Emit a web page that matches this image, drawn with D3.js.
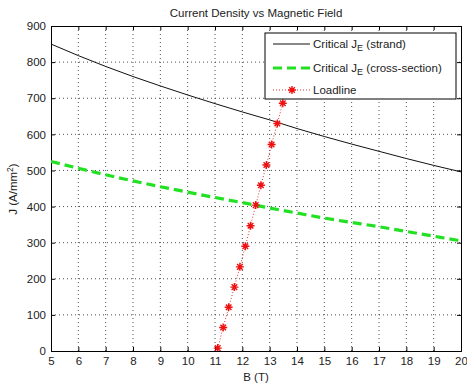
<!DOCTYPE html>
<html>
<head>
<meta charset="utf-8">
<script src="https://cdn.jsdelivr.net/npm/d3@7"></script>
<style>
body { margin: 0; background: #fff; }
text { font-family: "Liberation Sans", Arial, sans-serif; }
</style>
</head>
<body>
<svg width="467" height="385"></svg>
<script>
// B values for the critical curves
const bField = [5, 6, 7, 8, 9, 10, 11, 12, 13, 14, 15, 16, 17, 18, 19, 20]
const strandJ = [850, 818, 788, 760, 734, 709, 685, 662, 640, 616, 594, 573, 553, 533, 514, 496]
const crossJ = [525, 506, 488, 471, 455, 440, 425, 411, 396, 382, 368, 356, 344, 331, 318, 305]

// loadline points
const loadB = [11.1, 11.3, 11.5, 11.71, 11.91, 12.11, 12.3, 12.49, 12.68, 12.88, 13.07, 13.28, 13.48, 13.68, 13.88]
const loadJ = [8, 65, 121, 177, 233, 290, 347, 404, 459, 515, 572, 630, 686, 742, 798]

const xTicks = d3.range(5, 21, 1)
const yTicks = d3.range(0, 901, 100)

const margin = { top: 26, right: 6, bottom: 34, left: 51 },
    width = 467 - margin.left - margin.right,
    height = 385 - margin.top - margin.bottom

const svg = d3.select("svg")
const g = svg.append("g").attr("transform", `translate(${margin.left},${margin.top})`)

const xScale = d3.scaleLinear().domain([5, 20]).range([0, width])
const yScale = d3.scaleLinear().domain([0, 900]).range([height, 0])

// clip so curves stay inside the box
g.append("clipPath").attr("id", "plot").append("rect").attr("width", width).attr("height", height)

// grid
g.append("g")
    .selectAll("line")
    .data(xTicks.slice(1, -1))
    .join("line")
    .attr("x1", d => xScale(d)).attr("x2", d => xScale(d))
    .attr("y1", 0).attr("y2", height)
    .attr("stroke", "#222").attr("stroke-width", 0.8).attr("stroke-dasharray", "1,3")
g.append("g")
    .selectAll("line")
    .data(yTicks.slice(1, -1))
    .join("line")
    .attr("y1", d => yScale(d)).attr("y2", d => yScale(d))
    .attr("x1", 0).attr("x2", width)
    .attr("stroke", "#222").attr("stroke-width", 0.8).attr("stroke-dasharray", "1,3")

// axes
const xAxis = g.append("g")
    .attr("transform", `translate(0,${height})`)
    .call(d3.axisBottom(xScale).tickValues(xTicks).tickSize(-4).tickPadding(6).tickFormat(d3.format("d")))
const xTop = g.append("g")
    .call(d3.axisTop(xScale).tickValues(xTicks).tickSize(-4).tickFormat(""))
const yAxis = g.append("g")
    .call(d3.axisLeft(yScale).tickValues(yTicks).tickSize(-4).tickPadding(5))
const yRight = g.append("g")
    .attr("transform", `translate(${width},0)`)
    .call(d3.axisRight(yScale).tickValues(yTicks).tickSize(-4).tickFormat(""))

;[xAxis, xTop, yAxis, yRight].forEach(a => {
    a.select(".domain").attr("stroke", "#000")
    a.selectAll(".tick line").attr("stroke", "#000")
    a.selectAll("text").attr("fill", "#222").style("font-size", "11.5px")
})

const lineFn = d3.line().x(d => xScale(d[0])).y(d => yScale(d[1]))
const curves = g.append("g").attr("clip-path", "url(#plot)")

curves.append("path")
    .datum(d3.zip(bField, strandJ))
    .attr("d", lineFn.curve(d3.curveMonotoneX))
    .attr("fill", "none").attr("stroke", "#111").attr("stroke-width", 1)

curves.append("path")
    .datum(d3.zip(bField, crossJ))
    .attr("d", lineFn.curve(d3.curveMonotoneX))
    .attr("fill", "none").attr("stroke", "#22e022").attr("stroke-width", 3.2)
    .attr("stroke-dasharray", "9,5")

const loadData = d3.zip(loadB, loadJ)
curves.append("path")
    .datum(loadData)
    .attr("d", d3.line().x(d => xScale(d[0])).y(d => yScale(d[1])))
    .attr("fill", "none").attr("stroke", "#e03030").attr("stroke-width", 1)
    .attr("stroke-dasharray", "1,2")

function star(sel, r) {
    sel.append("path")
        .attr("d", `M${-r},0H${r}M0,${-r}V${r}M${-r * 0.7},${-r * 0.7}L${r * 0.7},${r * 0.7}M${-r * 0.7},${r * 0.7}L${r * 0.7},${-r * 0.7}`)
        .attr("stroke", "#ee1111").attr("stroke-width", 1.4).attr("fill", "none")
}

curves.append("g")
    .selectAll("g")
    .data(loadData)
    .join("g")
    .attr("transform", d => `translate(${xScale(d[0])},${yScale(d[1])})`)
    .each(function () { star(d3.select(this), 4) })

// legend
const legend = svg.append("g").attr("transform", "translate(265,33)")
legend.append("rect").attr("width", 191).attr("height", 66)
    .attr("fill", "#fff").attr("stroke", "#000").attr("stroke-width", 1)

const labels = [
    { main: "Critical J", sub: "E", rest: " (strand)", y: 11 },
    { main: "Critical J", sub: "E", rest: " (cross-section)", y: 35 },
    { main: "Loadline", sub: "", rest: "", y: 57 }
]
legend.append("line").attr("x1", 8).attr("x2", 45).attr("y1", 11).attr("y2", 11)
    .attr("stroke", "#111").attr("stroke-width", 1)
legend.append("line").attr("x1", 8).attr("x2", 45).attr("y1", 35).attr("y2", 35)
    .attr("stroke", "#22e022").attr("stroke-width", 3.2).attr("stroke-dasharray", "9,5")
legend.append("line").attr("x1", 8).attr("x2", 45).attr("y1", 57).attr("y2", 57)
    .attr("stroke", "#e03030").attr("stroke-width", 1).attr("stroke-dasharray", "1,2")
star(legend.append("g").attr("transform", "translate(27,57)"), 4)

labels.forEach(l => {
    const t = legend.append("text").attr("x", 48).attr("y", l.y + 4)
        .attr("fill", "#222").style("font-size", "11.5px")
    t.append("tspan").text(l.main)
    if (l.sub) t.append("tspan").attr("dy", 3).style("font-size", "9px").text(l.sub)
    if (l.rest) t.append("tspan").attr("dy", -3).text(l.rest)
})

// title and labels
svg.append("text").attr("x", 256).attr("y", 17).attr("text-anchor", "middle")
    .attr("fill", "#222").style("font-size", "11.5px").text("Current Density vs Magnetic Field")
svg.append("text").attr("x", 256).attr("y", 381).attr("text-anchor", "middle")
    .attr("fill", "#222").style("font-size", "11.5px").text("B (T)")
const yl = svg.append("text").attr("transform", "translate(17,189) rotate(-90)").attr("text-anchor", "middle")
    .attr("fill", "#222").style("font-size", "11.5px")
yl.append("tspan").text("J (A/mm")
yl.append("tspan").attr("dy", -4).style("font-size", "8.5px").text("2")
yl.append("tspan").attr("dy", 4).text(")")
</script>
</body>
</html>
